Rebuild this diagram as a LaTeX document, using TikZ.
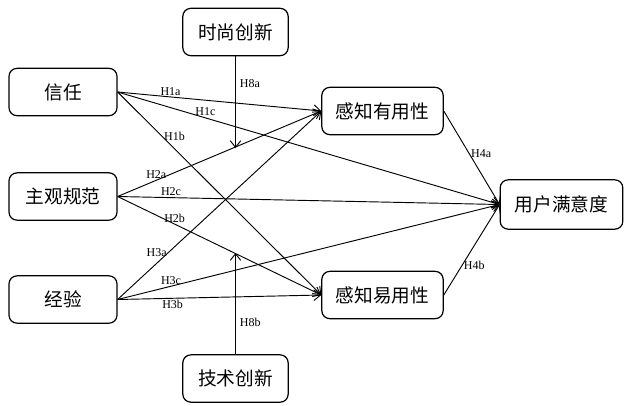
\documentclass[tikz,border=0pt]{standalone}
\usepackage{fontspec}
\setmainfont{Liberation Serif}
\newfontfamily\cjk{Noto Sans CJK SC}
\usetikzlibrary{arrows.meta}

\begin{document}
\begin{tikzpicture}[
	x=0.75pt, y=-0.75pt,
	box/.style = {draw, rounded corners=6pt, line width=0.9pt,
		minimum width=81pt, minimum height=35.5pt,
		font=\cjk\fontsize{14}{16}\selectfont},
	hyp/.style = {font=\fontsize{9}{10}\selectfont, inner sep=1pt},
	link/.style = {-{Straight Barb[length=5pt,width=8pt]}, line width=0.7pt, black},
]
	\useasboundingbox (0,0) rectangle (624,405);
	\node[box] at (63,92) (0) {信任};
	\node[box] at (63,196.5) (1) {主观规范};
	\node[box] at (63,299.5) (2) {经验};
	\node[box, minimum width=79pt] at (235.5,32) (3) {时尚创新};
	\node[box, minimum width=79pt] at (235.5,378.5) (4) {技术创新};
	\node[box, minimum width=91pt] at (382.5,111) (5) {感知有用性};
	\node[box, minimum width=91pt] at (382.5,295) (6) {感知易用性};
	\node[box, minimum width=92pt, minimum height=37pt] at (561.5,204.5) (7) {用户满意度};
	\coordinate (8) at (235.5,148);
	\coordinate (9) at (235.5,253);

	\draw[link] (0.east) -- node[hyp, pos=0.26, above] {H1a} (5.west);
	\draw[link] (0.east) -- node[hyp, pos=0.22, right] {H1b} (6.west);
	\draw[link] (0.east) -- node[hyp, pos=0.23, above] {H1c} (7.west);
	\draw[link] (1.east) -- node[hyp, pos=0.19, above] {H2a} (5.west);
	\draw[link] (1.east) -- node[hyp, pos=0.28, above] {H2b} (6.west);
	\draw[link] (1.east) -- node[hyp, pos=0.14, above] {H2c} (7.west);
	\draw[link] (2.east) -- node[hyp, pos=0.25, left] {H3a} (5.west);
	\draw[link] (2.east) -- node[hyp, pos=0.27, below] {H3b} (6.west);
	\draw[link] (2.east) -- node[hyp, pos=0.14, above] {H3c} (7.west);
	\draw[link] (5.east) -- node[hyp, pos=0.46, right] {H4a} (7.west);
	\draw[link] (6.east) -- node[hyp, pos=0.33, right] {H4b} (7.west);
	\draw[link] (3.south) -- node[hyp, pos=0.3, right=2pt] {H8a} (8);
	\draw[link] (4.north) -- node[hyp, pos=0.31, right=2pt] {H8b} (9);
\end{tikzpicture}
\end{document}
